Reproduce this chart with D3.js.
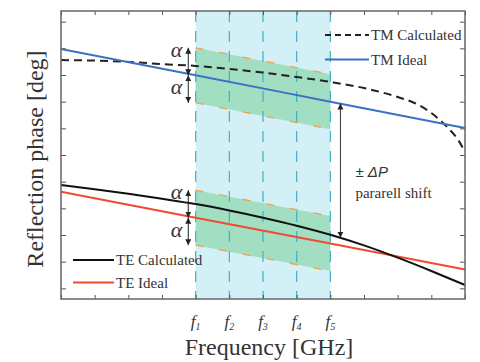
<!DOCTYPE html>
<html>
<head>
<meta charset="utf-8">
<script src="https://cdn.jsdelivr.net/npm/d3@7"></script>
<style>
body { margin: 0; background: #fff; }
</style>
</head>
<body>
<script>
// frekvensaxel i godtyckliga enheter (0..12), f1..f5 ligger vid 4..8
var xTicks = [0, 1, 2, 3, 4, 5, 6, 7, 8, 9, 10, 11, 12];
var yTicks = [0, 10, 20, 30, 40, 50, 60, 70, 80, 90, 100];
var fNames = ["1", "2", "3", "4", "5"];
var fPos = [4, 5, 6, 7, 8];

// TM beräknad (streckad)
var tmCalcX = [0, 1, 2, 3, 4, 5, 6, 7, 8, 9, 10, 10.5, 11, 11.5, 11.8, 12];
var tmCalc = [85.6, 85.4, 84.9, 84.1, 83.4, 82.25, 80.9, 79.25, 77.4, 75.1, 71.75, 69.5, 65.75, 60.1, 55.6, 51.1];
// TE beräknad
var teCalcX = [0, 1, 2, 3, 4, 5, 6, 7, 8, 9, 10, 11, 12];
var teCalc = [38.75, 37.2, 35.5, 33.6, 31.6, 29.2, 26.5, 23.5, 20.1, 16.1, 11.5, 6.5, 1.25];
// ideala linjer
var idealX = [0, 4, 8, 12];
var tmIdeal = [89.75, 79.9, 70.0, 60.1];
var teIdeal = [36.2, 26.5, 16.8, 7.1];
var alpha = 10.3;          // bandets halva bredd
var alphaX = 3.78;         // där alfa-pilarna sitter
var shiftX = 8.3, shiftFrom = 69.3, shiftTo = 19.0;

var SERIF = '"Liberation Serif", "Times New Roman", serif';
var SANS = '"Liberation Sans", Arial, sans-serif';

var width = 480, height = 362;
var margin = {top: 11, right: 15, bottom: 63, left: 61};
var chartWidth = width - margin.left - margin.right;
var chartHeight = height - margin.top - margin.bottom;

var svg = d3.select('body').append('svg')
    .attr('width', width)
    .attr('height', height);

var defs = svg.append('defs');
defs.append('marker')
    .attr('id', 'pil')
    .attr('viewBox', '0 0 10 10')
    .attr('refX', 10).attr('refY', 5)
    .attr('markerWidth', 6).attr('markerHeight', 7)
    .attr('markerUnits', 'userSpaceOnUse')
    .attr('orient', 'auto-start-reverse')
    .append('path').attr('d', 'M0,0 L10,5 L0,10 z').attr('fill', '#222');

var g = svg.append('g')
    .attr('transform', 'translate(' + margin.left + ',' + margin.top + ')');

var x = d3.scaleLinear().domain([0, 12]).range([0, chartWidth]);
var y = d3.scaleLinear().domain([-4, 104]).range([chartHeight, 0]);

function txt(parent, size) {
    return parent.append('text')
        .style('font-family', SERIF)
        .attr('font-size', size)
        .attr('fill', '#333');
}

// ljusblått frekvensområde
g.append('rect')
    .attr('x', x(fPos[0]))
    .attr('y', 0)
    .attr('width', x(fPos[fPos.length - 1]) - x(fPos[0]))
    .attr('height', chartHeight)
    .attr('fill', '#d3f0f6');

// gröna band runt de ideala linjerna
var bandData = [tmIdeal, teIdeal];
bandData.forEach(function(ideal) {
    var pts = [{x: idealX[1], c: ideal[1]}, {x: idealX[2], c: ideal[2]}];
    var area = d3.area()
        .x(function(d) { return x(d.x); })
        .y0(function(d) { return y(d.c - alpha); })
        .y1(function(d) { return y(d.c + alpha); });
    g.append('path').datum(pts).attr('d', area).attr('fill', '#a2dec2');
    [alpha, -alpha].forEach(function(off) {
        g.append('path').datum(pts)
            .attr('d', d3.line().x(function(d) { return x(d.x); }).y(function(d) { return y(d.c + off); }))
            .attr('fill', 'none')
            .attr('stroke', '#f0a24a')
            .attr('stroke-width', 1.3)
            .attr('stroke-dasharray', '8,16');
    });
});

// streckade vertikala linjer vid f1..f5
g.selectAll('.fline').data(fPos)
    .enter().append('line')
    .attr('x1', function(d) { return x(d); })
    .attr('x2', function(d) { return x(d); })
    .attr('y1', 0).attr('y2', chartHeight)
    .attr('stroke', '#3fb0c6')
    .attr('stroke-width', 1.2)
    .attr('stroke-dasharray', '11,9');

// axlar med tickar inåt
function styleAxis(sel) {
    sel.select('.domain').remove();
    sel.selectAll('line').attr('stroke', '#555');
}
g.append('g').attr('transform', 'translate(0,' + chartHeight + ')')
    .call(d3.axisBottom(x).tickValues(xTicks).tickSize(-4).tickFormat('')).call(styleAxis);
g.append('g')
    .call(d3.axisTop(x).tickValues(xTicks).tickSize(-4).tickFormat('')).call(styleAxis);
g.append('g')
    .call(d3.axisLeft(y).tickValues(yTicks).tickSize(-5).tickFormat('')).call(styleAxis);
g.append('g').attr('transform', 'translate(' + chartWidth + ',0)')
    .call(d3.axisRight(y).tickValues(yTicks).tickSize(-5).tickFormat('')).call(styleAxis);

// linjer
var line = d3.line()
    .x(function(d) { return x(d[0]); })
    .y(function(d) { return y(d[1]); })
    .curve(d3.curveMonotoneX);

g.append('path').datum(d3.zip(idealX, teIdeal)).attr('d', line)
    .attr('fill', 'none').attr('stroke', '#f04a32').attr('stroke-width', 2);
g.append('path').datum(d3.zip(teCalcX, teCalc)).attr('d', line)
    .attr('fill', 'none').attr('stroke', '#111').attr('stroke-width', 2);
g.append('path').datum(d3.zip(tmCalcX, tmCalc)).attr('d', line)
    .attr('fill', 'none').attr('stroke', '#222').attr('stroke-width', 2)
    .attr('stroke-dasharray', '8,5');
g.append('path').datum(d3.zip(idealX, tmIdeal)).attr('d', line)
    .attr('fill', 'none').attr('stroke', '#3a72c4').attr('stroke-width', 2);

// alfa-pilar
bandData.forEach(function(ideal) {
    var c = ideal[1];
    [[c + alpha, c], [c, c - alpha]].forEach(function(p) {
        g.append('line')
            .attr('x1', x(alphaX)).attr('x2', x(alphaX))
            .attr('y1', y(p[0])).attr('y2', y(p[1]))
            .attr('stroke', '#222').attr('stroke-width', 1)
            .attr('marker-start', 'url(#pil)')
            .attr('marker-end', 'url(#pil)');
    });
    txt(g, 22).attr('x', x(alphaX) - 6).attr('y', y(c + alpha) + 9)
        .attr('text-anchor', 'end').attr('font-style', 'italic').text('α');
    txt(g, 22).attr('x', x(alphaX) - 6).attr('y', y(c) + 19)
        .attr('text-anchor', 'end').attr('font-style', 'italic').text('α');
});

// parallellförskjutning
g.append('line')
    .attr('x1', x(shiftX)).attr('x2', x(shiftX))
    .attr('y1', y(shiftFrom)).attr('y2', y(shiftTo))
    .attr('stroke', '#333').attr('stroke-width', 1)
    .attr('marker-start', 'url(#pil)')
    .attr('marker-end', 'url(#pil)');
var dp = g.append('text').attr('x', x(shiftX) + 15).attr('y', 166)
    .style('font-family', SANS).attr('font-size', 15).attr('fill', '#333');
dp.append('tspan').text('± ');
dp.append('tspan').attr('font-style', 'italic').text('ΔP');
txt(g, 15).attr('x', x(shiftX) + 15).attr('y', 187).text('pararell shift');

// legender
var legTM = [{name: 'TM Calculated', color: '#222', dash: '6,4'}, {name: 'TM Ideal', color: '#3a72c4', dash: null}];
var legTE = [{name: 'TE Calculated', color: '#111', dash: null}, {name: 'TE Ideal', color: '#f04a32', dash: null}];
function legend(items, lx, ly, len, gap) {
    items.forEach(function(d, i) {
        var yy = ly + i * gap;
        g.append('line').attr('x1', lx).attr('x2', lx + len).attr('y1', yy).attr('y2', yy)
            .attr('stroke', d.color).attr('stroke-width', 2)
            .attr('stroke-dasharray', d.dash);
        txt(g, 15).attr('x', lx + len + 2).attr('y', yy + 5).text(d.name);
    });
}
legend(legTM, 264, 24, 44, 24.5);
legend(legTE, 12, 249, 41, 22.5);

// ram
g.append('rect').attr('width', chartWidth).attr('height', chartHeight)
    .attr('fill', 'none').attr('stroke', '#666').attr('stroke-width', 1.5);

// f-etiketter
fPos.forEach(function(p, i) {
    var t = txt(g, 17).attr('x', x(p)).attr('y', chartHeight + 28)
        .attr('text-anchor', 'middle').attr('font-style', 'italic');
    t.append('tspan').text('f');
    t.append('tspan').attr('font-size', 10).attr('dy', 3).text(fNames[i]);
});

// axeltitlar
txt(g, 24).attr('x', chartWidth / 2 + 6).attr('y', chartHeight + 56)
    .attr('text-anchor', 'middle').text('Frequency [GHz]');
txt(svg, 24).attr('transform', 'translate(43,159) rotate(-90)')
    .attr('text-anchor', 'middle').text('Reflection phase [deg]');
</script>
</body>
</html>
